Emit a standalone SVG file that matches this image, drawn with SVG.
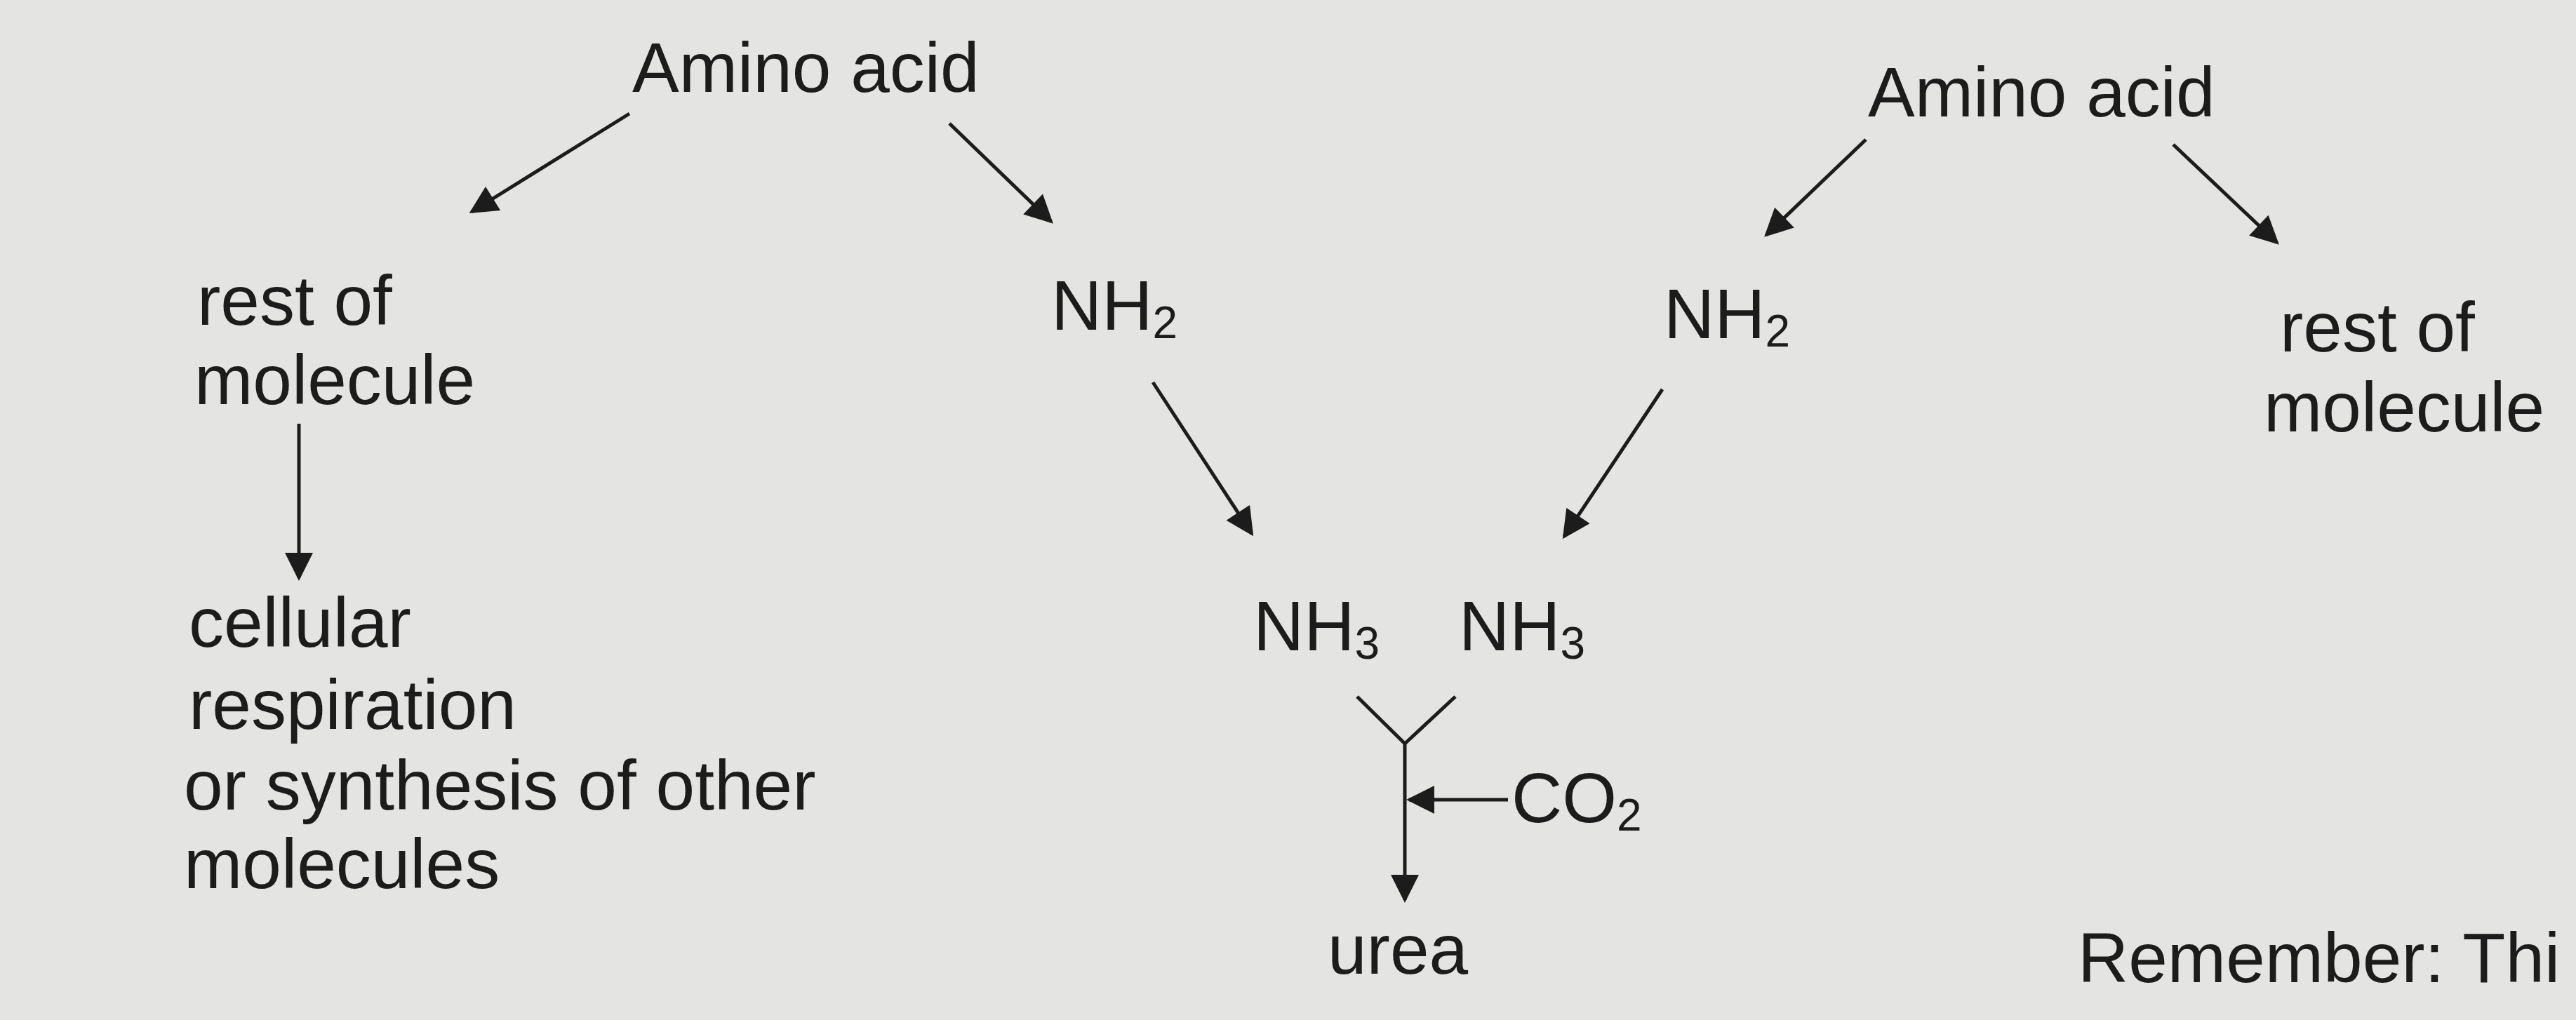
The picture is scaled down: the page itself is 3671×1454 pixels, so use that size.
<svg xmlns="http://www.w3.org/2000/svg" width="3671" height="1454" viewBox="0 0 3671 1454">
<style>
text{font-family:"Liberation Sans",Arial,sans-serif;font-size:100px;fill:#1c1c1c}
.sub{font-size:64px}
line{stroke:#1c1c1c;stroke-width:5}
</style>
<defs>
<marker id="a" viewBox="0 0 10 10" refX="9" refY="5" markerWidth="10" markerHeight="8" orient="auto">
<path d="M0,0 L10,5 L0,10 z" fill="#1c1c1c"/>
</marker>
</defs>
<rect width="3671" height="1454" fill="#e4e4e2"/>
<g id="aa1"><text x="901" y="131">Amino acid</text></g>
<g id="rest1"><text x="281" y="463">rest of</text><text x="277" y="576">molecule</text></g>
<g id="cell"><text x="269" y="922">cellular</text><text x="269" y="1039">respiration</text><text x="262" y="1154">or synthesis of other</text><text x="262" y="1266">molecules</text></g>
<g id="nh2a"><text x="1498" y="470">NH<tspan class="sub" dy="12">2</tspan></text></g>
<g id="aa2"><text x="2662" y="166">Amino acid</text></g>
<g id="nh2b"><text x="2371" y="482">NH<tspan class="sub" dy="12">2</tspan></text></g>
<g id="rest2"><text x="3249" y="501">rest of</text><text x="3226" y="615">molecule</text></g>
<g id="nh3a"><text x="1786" y="927">NH<tspan class="sub" dy="12">3</tspan></text></g>
<g id="nh3b"><text x="2079" y="927">NH<tspan class="sub" dy="12">3</tspan></text></g>
<g id="co2"><text x="2154" y="1172">CO<tspan class="sub" dy="12">2</tspan></text></g>
<g id="urea"><text x="1892" y="1388">urea</text></g>
<g id="rem"><text x="2961" y="1400">Remember:  Thi</text></g>
<g id="connectors">
<line x1="897" y1="162" x2="672" y2="302" marker-end="url(#a)"/>
<line x1="1353" y1="176" x2="1498" y2="316" marker-end="url(#a)"/>
<line x1="426" y1="604" x2="426" y2="824" marker-end="url(#a)"/>
<line x1="1643" y1="545" x2="1784" y2="761" marker-end="url(#a)"/>
<line x1="2369" y1="555" x2="2229" y2="765" marker-end="url(#a)"/>
<line x1="2659" y1="199" x2="2517" y2="335" marker-end="url(#a)"/>
<line x1="3097" y1="206" x2="3245" y2="346" marker-end="url(#a)"/>
<line x1="1934" y1="993" x2="2002" y2="1060"/>
<line x1="2074" y1="993" x2="2002" y2="1060"/>
<line x1="2002" y1="1060" x2="2002" y2="1283" marker-end="url(#a)"/>
<line x1="2149" y1="1140" x2="2008" y2="1140" marker-end="url(#a)"/>
</g>
</svg>
